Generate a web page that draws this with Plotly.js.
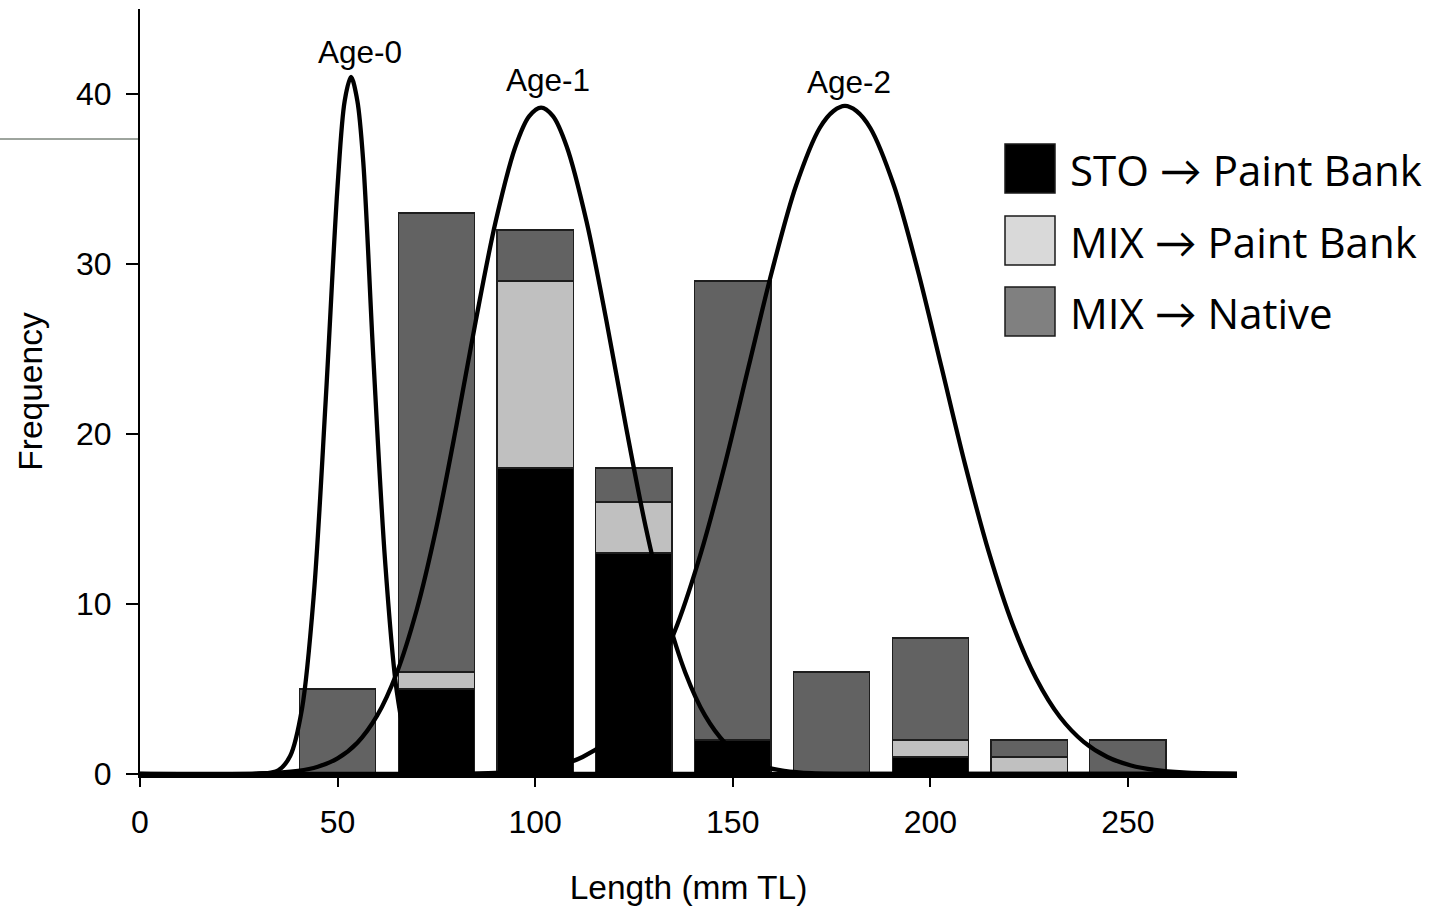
<!DOCTYPE html>
<html>
<head>
<meta charset="utf-8">
<script src="https://cdn.plot.ly/plotly-3.0.1.min.js"></script>
<style>
  html, body { margin: 0; padding: 0; background: #fff; }
  #chart { width: 1450px; height: 906px; }
</style>
</head>
<body>
<div id="chart"></div>
<script>
// Length classes (mm TL, bin centres) and stacked counts per origin group
const lengthBins   = [50, 75, 100, 125, 150, 175, 200, 225, 250];
const stoPaintBank = [0, 5, 18, 13, 2, 0, 1, 0, 0];
const mixPaintBank = [0, 1, 11, 3, 0, 0, 1, 1, 0];
const mixNative    = [5, 27, 3, 2, 27, 6, 6, 1, 2];

// Age-class length-frequency curves (length, frequency)
const age0X = [0, 30, 35, 38, 41, 44, 47, 50, 51.8, 53.4, 55, 56.5, 59, 62, 65, 68, 71, 74, 78, 90, 277.6];
const age0Y = [0, 0.01, 0.22, 1.06, 3.85, 10.6, 22.0, 34.6, 39.6, 41.0, 39.6, 36.0, 24.7, 12.6, 4.83, 1.40, 0.31, 0.05, 0, 0, 0];

const age1X = [0, 30, 40, 45, 50, 55, 60, 65, 70, 75, 80, 85, 90, 95, 98.5, 101.5, 104.5, 108, 113, 118, 123, 128, 133, 138, 143, 148, 153, 158, 163, 170, 185, 277.6];
const age1Y = [0, 0.03, 0.19, 0.43, 0.92, 1.84, 3.43, 5.96, 9.63, 14.5, 20.4, 26.7, 32.5, 36.9, 38.7, 39.2, 38.7, 36.9, 32.5, 26.7, 20.4, 14.5, 9.63, 5.96, 3.43, 1.84, 0.92, 0.43, 0.19, 0.05, 0, 0];

const age2X = [0, 80, 90, 100, 106, 112, 118, 124, 130, 136, 142, 148, 154, 160, 166, 172, 175.5, 178.4, 181.3, 184.8, 190.8, 196.8, 202.8, 208.8, 214.8, 220.8, 226.8, 232.8, 238.8, 244.8, 250.8, 256.8, 264, 277.6];
const age2Y = [0, 0, 0.06, 0.24, 0.50, 1.00, 1.89, 3.35, 5.60, 8.81, 13.05, 18.2, 23.95, 29.65, 34.6, 38.0, 39.0, 39.3, 39.0, 38.0, 34.6, 29.65, 23.95, 18.2, 13.05, 8.81, 5.60, 3.35, 1.89, 1.00, 0.50, 0.24, 0.09, 0.01];

const ageLabels = ['Age-0', 'Age-1', 'Age-2'];
const ageLabelX = [55.6, 103.2, 179.4];
const ageLabelY = [42.5, 40.8, 40.7];

const legendLabels = ['STO \u2192 Paint Bank', 'MIX \u2192 Paint Bank', 'MIX \u2192 Native'];
const legendColors = ['#000000', '#d9d9d9', '#808080'];
const barColors    = ['#000000', '#c0c0c0', '#626262'];

// plot-area geometry in pixels, used to place the hand-drawn legend
const PL = 140, PR = 1237, PT = 9, PB = 774;
const fx = px => (px - PL) / (PR - PL);
const fy = py => (PB - py) / (PB - PT);

const BAR_W = 19.3;
const barLine = { color: '#1e1e1e', width: 1.3 };

const traces = [
  { type: 'bar', x: lengthBins, y: stoPaintBank, width: BAR_W, name: legendLabels[0],
    marker: { color: barColors[0], line: barLine }, showlegend: false, hoverinfo: 'skip' },
  { type: 'bar', x: lengthBins, y: mixPaintBank, width: BAR_W, name: legendLabels[1],
    marker: { color: barColors[1], line: barLine }, showlegend: false, hoverinfo: 'skip' },
  { type: 'bar', x: lengthBins, y: mixNative, width: BAR_W, name: legendLabels[2],
    marker: { color: barColors[2], line: barLine }, showlegend: false, hoverinfo: 'skip' },
];
[[age0X, age0Y], [age1X, age1Y], [age2X, age2Y]].forEach(([xs, ys], i) => {
  traces.push({
    type: 'scatter', mode: 'lines', x: xs, y: ys, name: ageLabels[i],
    line: { color: '#000', width: 4.3, shape: 'spline', smoothing: 0.9 },
    showlegend: false, hoverinfo: 'skip'
  });
});

const sansFont = 'Arial, "Liberation Sans", sans-serif';

const annotations = ageLabels.map((t, i) => ({
  text: t, x: ageLabelX[i], y: ageLabelY[i], xref: 'x', yref: 'y',
  showarrow: false, xanchor: 'center', yanchor: 'middle',
  font: { family: sansFont, size: 31.5, color: '#000' }
}));

// legend: square swatches with labels to the right
const swatchTop = [144, 216, 287];
const shapes = [];
swatchTop.forEach((top, i) => {
  shapes.push({
    type: 'rect', xref: 'paper', yref: 'paper',
    x0: fx(1005), x1: fx(1055), y0: fy(top), y1: fy(top + 49),
    fillcolor: legendColors[i], line: { color: '#1a1a1a', width: 1.5 }
  });
  annotations.push({
    text: legendLabels[i], xref: 'paper', yref: 'paper',
    x: fx(1068), y: fy(top + 25), xanchor: 'left', yanchor: 'middle', showarrow: false,
    font: { family: '"Open Sans", Lato, sans-serif', size: 42, color: '#000' }
  });
});
// thin rule at the upper left margin
shapes.push({
  type: 'line', xref: 'paper', yref: 'paper',
  x0: fx(0), x1: fx(138), y0: fy(139), y1: fy(139),
  line: { color: '#3c4a3c', width: 1 }
});

const tickFont = { family: sansFont, size: 32, color: '#000' };
const titleFont = { family: sansFont, size: 33.5, color: '#000' };

const layout = {
  width: 1450, height: 906,
  margin: { l: PL, r: 1450 - PR, t: PT, b: 906 - PB },
  paper_bgcolor: '#fff', plot_bgcolor: '#fff',
  barmode: 'stack',
  showlegend: false,
  xaxis: {
    range: [0, 277.6], tickvals: [0, 50, 100, 150, 200, 250],
    showgrid: false, zeroline: false, showline: true, linecolor: '#000', linewidth: 4,
    ticks: 'outside', ticklen: 9, tickwidth: 2, tickcolor: '#000',
    tickfont: tickFont, ticklabelstandoff: 8, automargin: false,
    title: { text: 'Length (mm TL)', font: titleFont, standoff: 38 }
  },
  yaxis: {
    range: [0, 45], tickvals: [0, 10, 20, 30, 40],
    showgrid: false, zeroline: false, showline: true, linecolor: '#000', linewidth: 2,
    ticks: 'outside', ticklen: 12, tickwidth: 2, tickcolor: '#000',
    tickfont: tickFont, ticklabelstandoff: 8, automargin: false,
    title: { text: 'Frequency', font: titleFont, standoff: 23 }
  },
  annotations: annotations,
  shapes: shapes
};

Plotly.newPlot('chart', traces, layout, { displayModeBar: false, staticPlot: true });
</script>
</body>
</html>
